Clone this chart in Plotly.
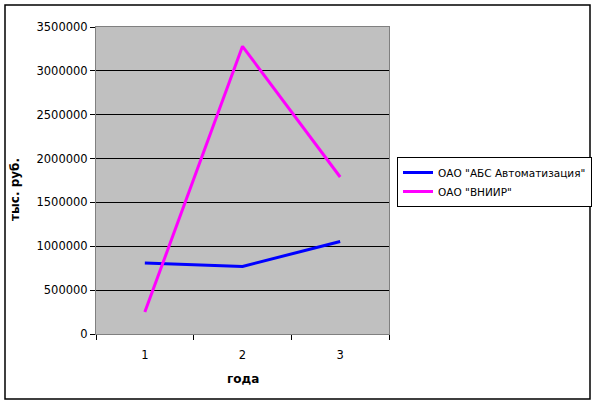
import plotly.graph_objects as go

years = [1, 2, 3]
abs_values = [810000, 770000, 1055000]
vniir_values = [250000, 3280000, 1790000]
series_names = ['ОАО "АБС Автоматизация"', 'ОАО "ВНИИР"']
y_ticks = [0, 500000, 1000000, 1500000, 2000000, 2500000, 3000000, 3500000]

W, H = 593, 405
L, R, T, B = 96, 389, 27, 334
pw, ph = R - L, B - T

def px(x):
    return (x - L) / pw

def py(y):
    return (B - y) / ph

fig = go.Figure()
fig.add_trace(go.Scatter(x=years, y=abs_values, mode="lines", name=series_names[0],
                         line=dict(color="#0000FF", width=3)))
fig.add_trace(go.Scatter(x=years, y=vniir_values, mode="lines", name=series_names[1],
                         line=dict(color="#FF00FF", width=3)))

font = dict(family="DejaVu Sans, Verdana, sans-serif", size=11.5, color="black")

fig.update_layout(
    width=W, height=H,
    margin=dict(l=L, r=W - R, t=T, b=H - B, pad=0, autoexpand=False),
    paper_bgcolor="white", plot_bgcolor="#C0C0C0",
    font=font,
    xaxis=dict(range=[0.5, 3.5], tickvals=years, ticktext=[str(v) for v in years],
               ticks="", showgrid=False, zeroline=False, automargin=False,
               showline=True, linecolor="#808080", linewidth=1, mirror=True,
               tickfont=font, ticklabelstandoff=10,
               minor=dict(tickvals=[0.5, 1.5, 2.5, 3.5], ticks="outside", ticklen=5,
                          tickcolor="black", showgrid=False)),
    yaxis=dict(range=[0, 3500000], tickvals=y_ticks, ticktext=[str(v) for v in y_ticks],
               ticks="outside", ticklen=5, tickcolor="black", automargin=False,
               showgrid=True, gridcolor="black", gridwidth=1, zeroline=False,
               showline=True, linecolor="#808080", linewidth=1, mirror=True,
               tickfont=font),
    legend=dict(xref="container", yref="container", x=397 / W, y=1 - 157 / H,
                xanchor="left", yanchor="top",
                bgcolor="white", bordercolor="black", borderwidth=1,
                font=dict(family="DejaVu Sans, Verdana, sans-serif", size=10.5, color="black"),
                itemwidth=30, tracegroupgap=0),
    showlegend=True,
)

fig.add_annotation(text="<b>тыс. руб.</b>", xref="paper", yref="paper",
                   x=px(15), y=py(190), xanchor="center", yanchor="middle",
                   textangle=-90, showarrow=False,
                   font=dict(family="DejaVu Sans, Verdana, sans-serif", size=12, color="black"))
fig.add_annotation(text="<b>года</b>", xref="paper", yref="paper",
                   x=px(243), y=py(379), xanchor="center", yanchor="middle",
                   showarrow=False,
                   font=dict(family="DejaVu Sans, Verdana, sans-serif", size=12, color="black"))

fig.add_shape(type="rect", xref="paper", yref="paper",
              x0=px(5), x1=px(590), y0=py(399), y1=py(5),
              line=dict(color="black", width=1.5), fillcolor="rgba(0,0,0,0)", layer="below")

fig.write_html("out.html", config={"displayModeBar": False},
               post_script="document.body.style.margin='0';document.body.style.overflow='hidden';")
